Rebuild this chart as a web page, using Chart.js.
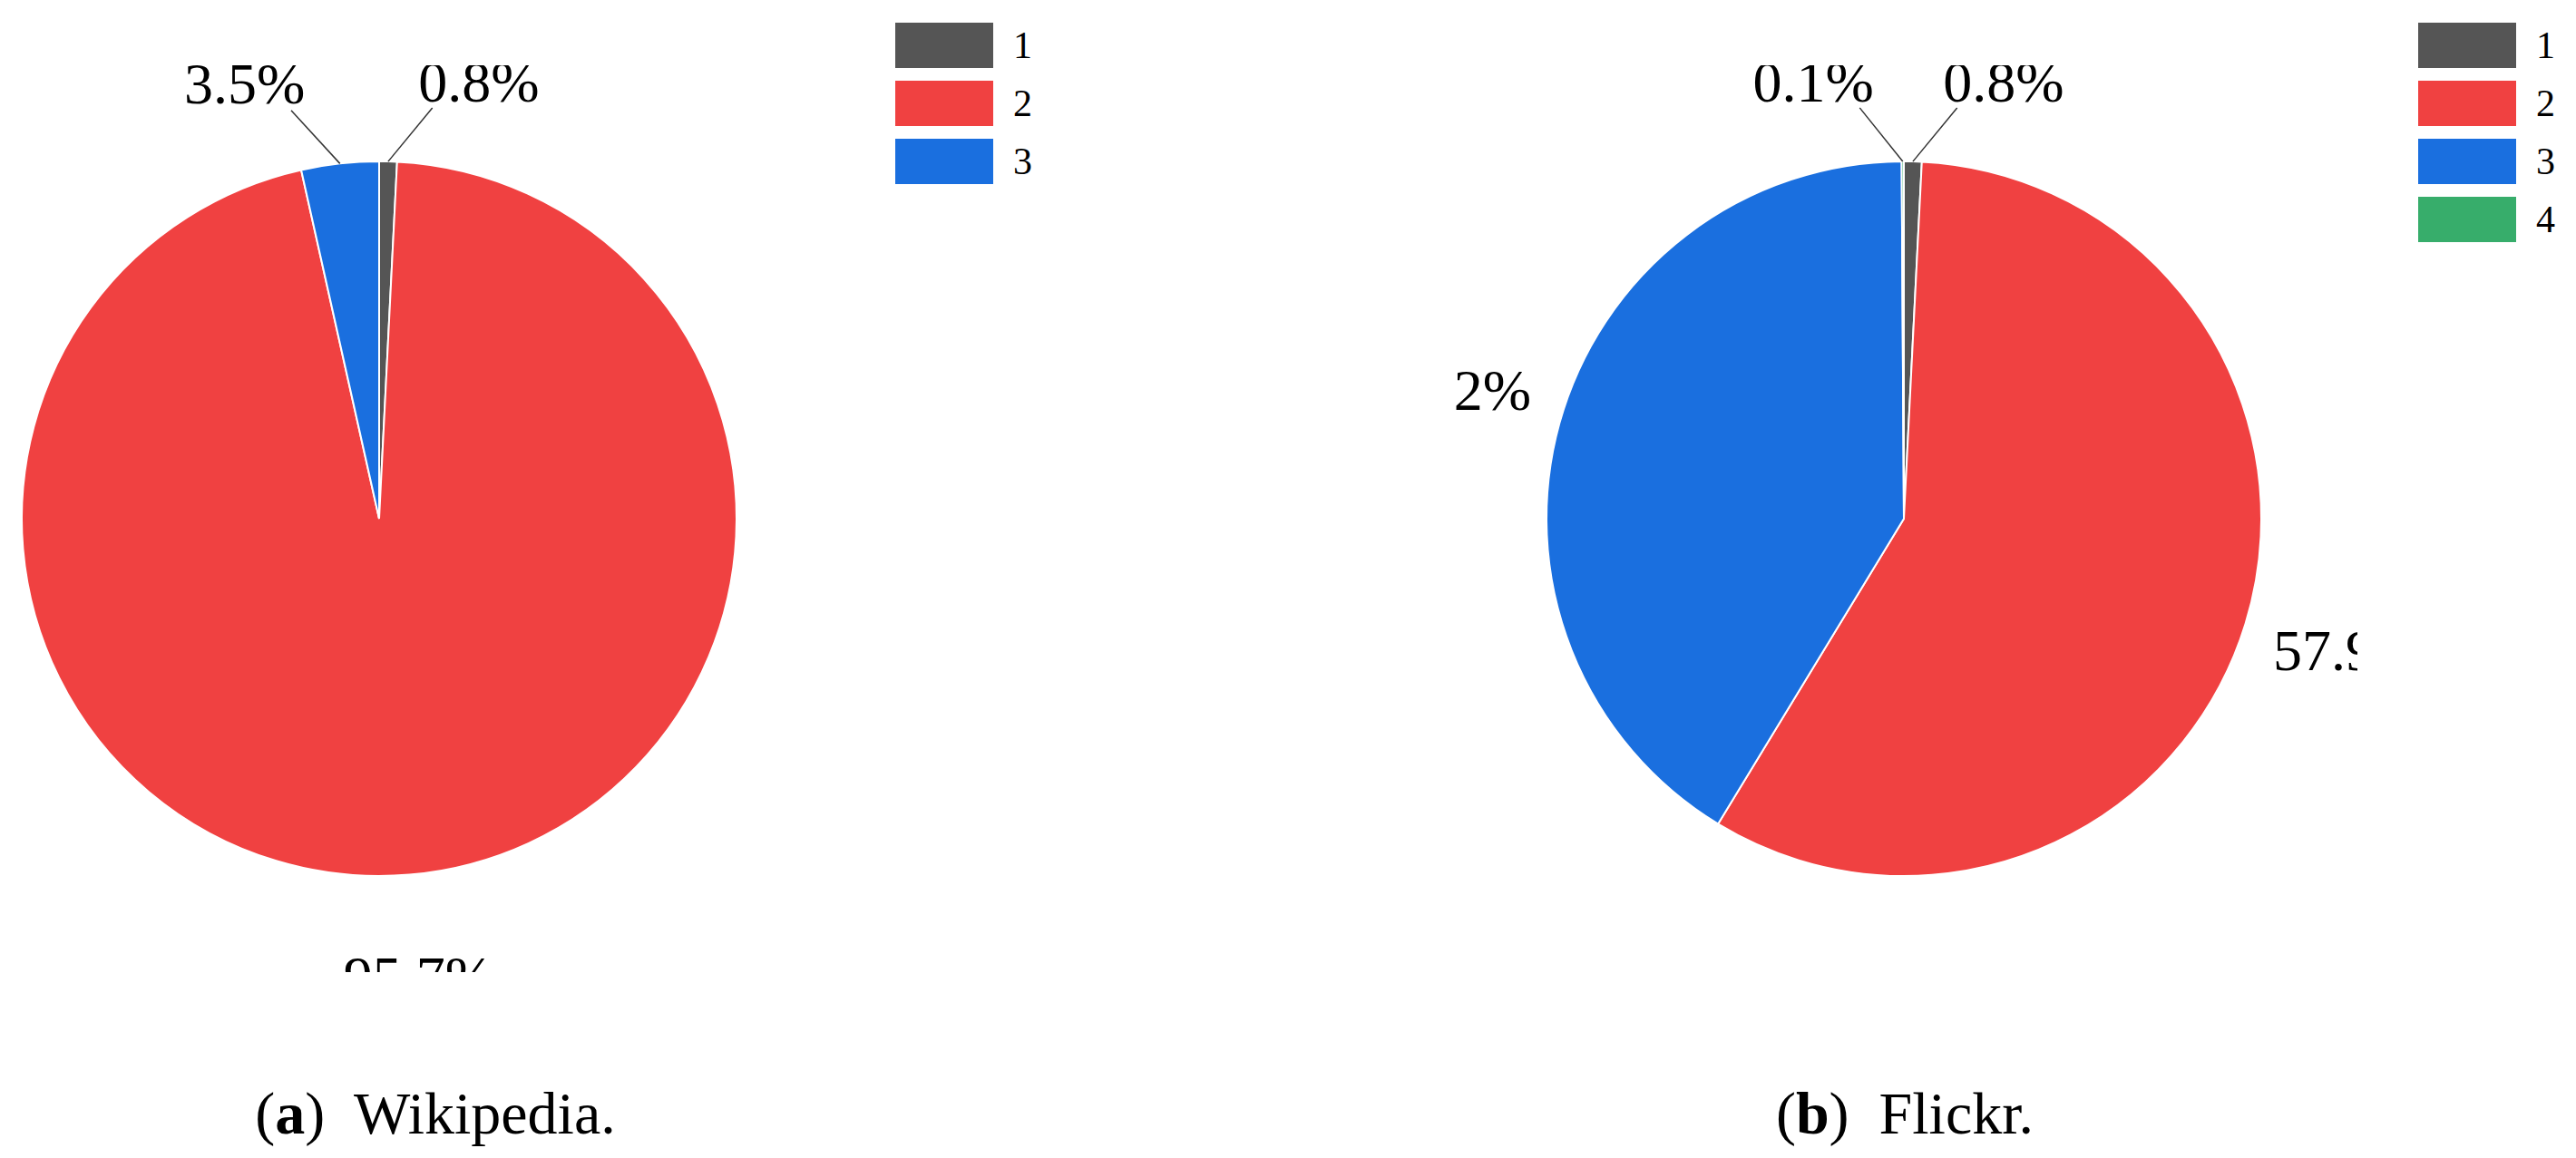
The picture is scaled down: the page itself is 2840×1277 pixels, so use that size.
<!DOCTYPE html>
<html>
<head>
<meta charset="utf-8">
<script src="https://cdn.jsdelivr.net/npm/chart.js@4"></script>
<style>
  body { margin: 0; width: 2840px; height: 1277px; background: #fff; position: relative; overflow: hidden; font-family: "Liberation Serif", serif; }
  canvas { position: absolute; }
  .legend { position: absolute; font-size: 42px; }
  .legend div { display: flex; align-items: center; height: 64px; }
  .legend span.box { display: inline-block; width: 108px; height: 50px; margin-right: 22px; }
  .caption { position: absolute; top: 1190px; font-size: 66px; transform: translateX(-50%); white-space: nowrap; }
</style>
</head>
<body>
<div style="position:absolute;left:-82px;top:72px;width:1000px;height:1000px"><canvas id="wiki"></canvas></div>
<div style="position:absolute;left:1599px;top:72px;width:1000px;height:1000px"><canvas id="flickr"></canvas></div>
<div class="legend" id="legWiki" style="left:987px;top:18px"></div>
<div class="legend" id="legFlickr" style="left:2666px;top:18px"></div>
<div class="caption" style="left:480px">(<b>a</b>)&nbsp; Wikipedia.</div>
<div class="caption" style="left:2100px">(<b>b</b>)&nbsp; Flickr.</div>
<script>
const colors = ["#555555", "#f04141", "#1a6fdf", "#37ad6b"];
const wikiLabels = ["1", "2", "3"];
const wikiValues = [0.8, 95.7, 3.5];
const flickrLabels = ["1", "2", "3", "4"];
const flickrValues = [0.8, 57.9, 41.2, 0.1];

const labelPlugin = {
    id: "pctLabels",
    afterDraw(chart) {
        const ctx = chart.ctx;
        const values = chart.data.datasets[0].data;
        const total = values.reduce((a, b) => a + b, 0);
        ctx.save();
        ctx.font = "64px 'Liberation Serif'";
        ctx.fillStyle = "#000";
        ctx.strokeStyle = "#333";
        ctx.lineWidth = 1.5;
        chart.getDatasetMeta(0).data.forEach((arc, i) => {
            const r = arc.outerRadius;
            const mid = (arc.startAngle + arc.endAngle) / 2;
            const dx = Math.cos(mid), dy = Math.sin(mid);
            const text = values[i].toFixed(1) + "%";
            if (values[i] / total > 0.1) {
                ctx.textAlign = "center";
                ctx.textBaseline = "middle";
                ctx.fillText(text, arc.x + dx * r * 1.3, arc.y + dy * r * 1.3);
            } else {
                const sx = arc.x + dx * r, sy = arc.y + dy * r;
                const side = dx >= 0 ? 1 : -1;
                const ex = sx + dx * r * 0.15 + side * r * 0.12;
                const ey = sy + dy * r * 0.15;
                ctx.beginPath();
                ctx.moveTo(sx, sy);
                ctx.lineTo(ex, ey);
                ctx.stroke();
                ctx.textAlign = "center";
                ctx.textBaseline = "bottom";
                ctx.fillText(text, ex + side * r * 0.13, ey + 8);
            }
        });
        ctx.restore();
    }
};

function makePie(id, labels, values) {
    new Chart(document.getElementById(id), {
        type: "pie",
        data: {
            labels: labels,
            datasets: [{
                data: values,
                backgroundColor: colors.slice(0, values.length),
                borderColor: "#fff",
                borderWidth: 2
            }]
        },
        options: {
            responsive: true,
            maintainAspectRatio: false,
            animation: false,
            layout: { padding: 105 },
            plugins: { legend: { display: false }, tooltip: { enabled: false } }
        },
        plugins: [labelPlugin]
    });
}

function makeLegend(id, labels) {
    document.getElementById(id).innerHTML = labels
        .map((l, i) => `<div><span class="box" style="background:${colors[i]}"></span>${l}</div>`)
        .join("");
}

makePie("wiki", wikiLabels, wikiValues);
makePie("flickr", flickrLabels, flickrValues);
makeLegend("legWiki", wikiLabels);
makeLegend("legFlickr", flickrLabels);
</script>
</body>
</html>
